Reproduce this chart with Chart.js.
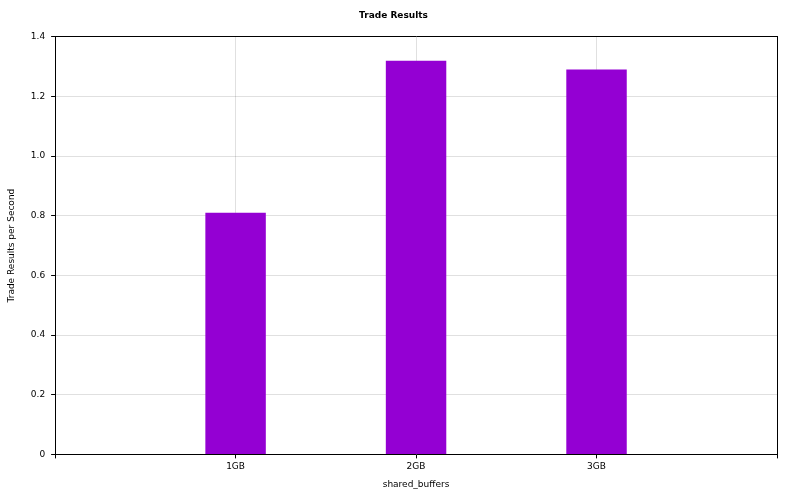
<!DOCTYPE html>
<html lang="en">
<head>
<meta charset="UTF-8">
<title>Trade Results</title>
<script src="https://cdn.jsdelivr.net/npm/chart.js"></script>
<style>
  html, body { margin: 0; padding: 0; background: #fff; }
  #wrap { width: 800px; height: 500px; }
</style>
</head>
<body>
<div id="wrap"><canvas id="chart" width="800" height="500"></canvas></div>
<script>
// blank slots at both ends give gnuplot-like empty margins
const categories = ['', '1GB', '2GB', '3GB', ''];
const tradeResults = [null, 0.81, 1.32, 1.29, null];
const yTicks = [0, 0.2, 0.4, 0.6, 0.8, 1, 1.2, 1.4];

const font = { family: 'DejaVu Sans', size: 9 };
const gridDash = {
  color: 'rgba(0,0,0,0.12)',
  borderDash: [2, 3],
  drawTicks: true,
  tickLength: 4,
  tickColor: '#000'
};

new Chart(document.getElementById('chart'), {
  type: 'bar',
  data: {
    labels: categories,
    datasets: [{
      data: tradeResults,
      backgroundColor: '#9400d3',
      barPercentage: 0.335,
      categoryPercentage: 1
    }]
  },
  options: {
    responsive: false,
    animation: false,
    layout: { padding: { top: 0, right: 15, bottom: 6, left: 2 } },
    plugins: {
      legend: { display: false },
      tooltip: { enabled: false },
      title: {
        display: true,
        text: 'Trade Results',
        color: '#000',
        font: font,
        padding: { top: 10, bottom: 8 }
      }
    },
    scales: {
      x: {
        offset: false,
        grid: Object.assign({ offset: false }, gridDash),
        border: { color: '#000' },
        ticks: { color: '#000', font: font, maxRotation: 0, autoSkip: false },
        title: { display: true, text: 'shared_buffers', color: '#000', font: font, padding: { top: 4 } }
      },
      y: {
        min: 0,
        max: 1.4,
        afterBuildTicks: axis => { axis.ticks = yTicks.map(v => ({ value: v })); },
        grid: gridDash,
        border: { color: '#000' },
        ticks: { color: '#000', font: font, padding: 6 },
        title: { display: true, text: 'Trade Results per Second', color: '#000', font: font, padding: { bottom: 8 } }
      },
      x2: {
        position: 'top',
        grid: { display: false },
        border: { color: '#000' },
        ticks: { display: false }
      },
      y2: {
        position: 'right',
        grid: { display: false },
        border: { color: '#000' },
        ticks: { display: false }
      }
    }
  }
});
</script>
</body>
</html>
